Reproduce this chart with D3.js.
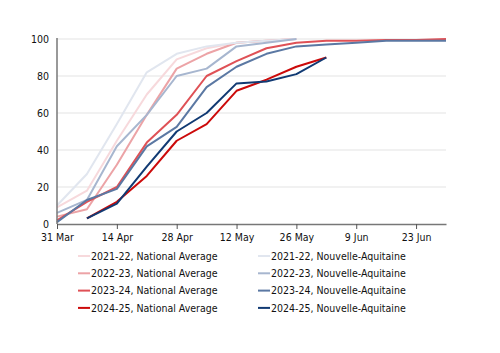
<!DOCTYPE html>
<html lang="en">
<head>
    <meta charset="UTF-8">
    <title>Cumulative progress</title>
    <script src="https://d3js.org/d3.v7.min.js"></script>
    <style>
        body { margin: 0; background: #fff; font-family: "DejaVu Sans Condensed", "DejaVu Sans", sans-serif; }
        svg text { fill: #111; }
    </style>
</head>
<body>
    <svg width="500" height="353"></svg>

    <script>
        // weekly observations, starting 31 Mar
        const weeks = ["2025-03-31", "2025-04-07", "2025-04-14", "2025-04-21", "2025-04-28",
                       "2025-05-05", "2025-05-12", "2025-05-19", "2025-05-26", "2025-06-02",
                       "2025-06-09", "2025-06-16", "2025-06-23", "2025-06-30"];

        const nat2122 = [9, 18, 45, 70, 89, 95, 98, 99, 100];
        const nat2223 = [4, 8, 32, 59, 84, 92, 98, 99, 100];
        const nat2324 = [2, 12, 20, 44, 59, 80, 88, 95, 98, 99, 99, 99.5, 99.5, 100];
        const nat2425 = [null, 3, 12, 26, 45, 54, 72, 78, 85, 90];
        const na2122 = [10, 27, 54, 82, 92, 96, 98, 99, 100];
        const na2223 = [6, 13, 42, 59, 80, 84, 96, 98, 100];
        const na2324 = [1, 13, 19, 42, 52.5, 74, 85, 92, 96, 97, 98, 99, 99, 99];
        const na2425 = [null, 3, 11, 31, 50, 60, 76, 77, 81, 90];

        const seriesNames = ["2021-22, National Average", "2022-23, National Average",
                             "2023-24, National Average", "2024-25, National Average",
                             "2021-22, Nouvelle-Aquitaine", "2022-23, Nouvelle-Aquitaine",
                             "2023-24, Nouvelle-Aquitaine", "2024-25, Nouvelle-Aquitaine"];
        const seriesValues = [nat2122, nat2223, nat2324, nat2425, na2122, na2223, na2324, na2425];
        const colors = ["#f7d9dc", "#eca3a6", "#df5156", "#cc0a0a",
                        "#e1e6ef", "#a7b6cf", "#5b78a3", "#113a73"];

        const yTicks = [0, 20, 40, 60, 80, 100];
        const xTicks = ["2025-03-31", "2025-04-14", "2025-04-28", "2025-05-12",
                        "2025-05-26", "2025-06-09", "2025-06-23"];

        const parse = d3.timeParse("%Y-%m-%d");
        const svg = d3.select("svg");
        const font = "DejaVu Sans Condensed, DejaVu Sans, sans-serif";

        const x = d3.scaleTime()
            .domain([parse("2025-03-31"), parse("2025-06-30")])
            .range([57, 446]);
        const y = d3.scaleLinear().domain([0, 100]).range([224, 39]);

        // gridlines
        svg.append("g")
            .selectAll("line")
            .data(yTicks.slice(1))
            .enter().append("line")
            .attr("x1", 57).attr("x2", 446)
            .attr("y1", d => y(d)).attr("y2", d => y(d))
            .attr("stroke", "#e3e3e3").attr("stroke-width", 1.2);

        // y labels
        svg.append("g")
            .selectAll("text")
            .data(yTicks)
            .enter().append("text")
            .attr("x", 49).attr("y", d => y(d) + 3.8)
            .attr("text-anchor", "end")
            .attr("font-size", "10.5px")
            .text(d => d);

        // lines
        const line = d3.line()
            .defined(d => d.v != null)
            .x(d => x(parse(d.date)))
            .y(d => y(d.v));

        svg.append("g")
            .selectAll("path")
            .data(seriesValues.map((vals, i) => ({ i, pts: vals.map((v, k) => ({ date: weeks[k], v })) })))
            .enter().append("path")
            .attr("fill", "none")
            .attr("stroke", d => colors[d.i])
            .attr("stroke-width", 2)
            .attr("stroke-linejoin", "round")
            .attr("d", d => line(d.pts));

        // axes
        svg.append("line")
            .attr("x1", 57).attr("x2", 57).attr("y1", 38).attr("y2", 224)
            .attr("stroke", "#777").attr("stroke-width", 1.5);

        const xAxis = svg.append("g")
            .attr("transform", "translate(0,224)")
            .call(d3.axisBottom(x)
                .tickValues(xTicks.map(parse))
                .tickFormat(d3.timeFormat("%-d %b"))
                .tickSize(5)
                .tickSizeOuter(0));
        xAxis.select(".domain").attr("stroke", "#777").attr("stroke-width", 1.5);
        xAxis.selectAll(".tick line").attr("stroke", "#555");
        xAxis.selectAll("text")
            .attr("font-size", "10.5px")
            .attr("font-family", font)
            .attr("fill", "#111")
            .attr("dy", "0.9em");

        // legend
        const legend = svg.append("g")
            .selectAll("g")
            .data(seriesNames)
            .enter().append("g")
            .attr("transform", (d, i) => `translate(${i < 4 ? 78 : 258},${256 + (i % 4) * 17.3})`);
        legend.append("line")
            .attr("x1", 0).attr("x2", 12)
            .attr("stroke", (d, i) => colors[i])
            .attr("stroke-width", 2);
        legend.append("text")
            .attr("x", 13).attr("y", 3.8)
            .attr("font-size", "10.5px")
            .text(d => d);
    </script>
</body>
</html>
